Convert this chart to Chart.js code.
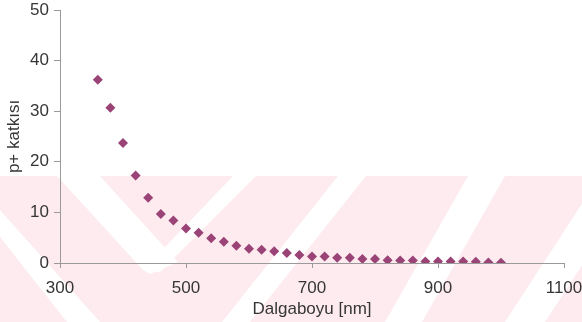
<!DOCTYPE html>
<html>
<head>
<meta charset="utf-8">
<script src="https://cdn.jsdelivr.net/npm/chart.js@4/dist/chart.umd.min.js"></script>
<style>
  html, body { margin: 0; padding: 0; background: #ffffff; }
  #wrap { position: relative; width: 582px; height: 322px; }
</style>
</head>
<body>
<div id="wrap"><canvas id="c" width="582" height="322"></canvas></div>
<script>
// Data
const wavelengths = [360, 380, 400, 420, 440, 460, 480, 500, 520, 540, 560, 580, 600, 620, 640, 660, 680,
  700, 720, 740, 760, 780, 800, 820, 840, 860, 880, 900, 920, 940, 960, 980, 1000];
const pContribution = [36.2, 30.7, 23.7, 17.3, 12.9, 9.7, 8.4, 6.8, 6.0, 4.9, 4.2, 3.4, 2.8, 2.6, 2.3, 2.0, 1.6,
  1.3, 1.3, 1.05, 1.05, 0.8, 0.8, 0.55, 0.5, 0.5, 0.3, 0.3, 0.3, 0.3, 0.25, 0.1, 0.05];
const xTicks = [300, 500, 700, 900, 1100];
const yTicks = [0, 10, 20, 30, 40, 50];
const xTitle = 'Dalgaboyu [nm]';
const yTitle = 'p+ katkısı';

// Background watermark (decorative pink stripes, not data)
const watermark = {
  id: 'watermark',
  beforeDraw(chart) {
    const ctx = chart.ctx;
    const W = chart.width, H = chart.height;
    ctx.save();
    ctx.fillStyle = '#ffffff';
    ctx.fillRect(0, 0, W, H);
    ctx.beginPath();
    ctx.rect(0, 176, W, H - 176);
    ctx.clip();
    ctx.fillStyle = '#fdebef';
    ctx.fillRect(0, 176, W, H - 176);
    ctx.fillStyle = '#ffffff';
    const poly = (pts) => { ctx.beginPath(); ctx.moveTo(pts[0][0], pts[0][1]); for (let i = 1; i < pts.length; i++) ctx.lineTo(pts[i][0], pts[i][1]); ctx.closePath(); ctx.fill(); };
    // "\" bands
    poly([[57, 176], [100, 176], [178, 262], [150, 274], [143, 270]]);
    poly([[-40, 176], [0, 176], [0, 210], [100, 322], [67, 322], [0, 237]]);
    // "/" bands
    poly([[233, 176], [256, 176], [160, 272], [143, 270]]);
    poly([[338, 176], [366, 176], [250, 322], [222, 322]]);
    poly([[468, 176], [505, 176], [422, 322], [385, 322]]);
    poly([[600, 176], [640, 176], [545, 322], [505, 322]]);
    ctx.restore();
  }
};

const tickColor = '#363636';
const axisColor = '#9a9a9a';
const fontFamily = 'Liberation Sans, Arial, sans-serif';

new Chart(document.getElementById('c'), {
  type: 'scatter',
  data: {
    datasets: [{
      data: wavelengths.map((w, i) => ({ x: w, y: pContribution[i] })),
      pointStyle: 'rectRot',
      pointRadius: 5,
      pointHoverRadius: 5,
      backgroundColor: '#9a4376',
      borderColor: '#9a4376',
      borderWidth: 0
    }]
  },
  options: {
    responsive: false,
    animation: false,
    devicePixelRatio: 1,
    layout: { padding: { top: 10, right: 0, left: 0, bottom: 0 } },
    plugins: { legend: { display: false }, tooltip: { enabled: false } },
    scales: {
      x: {
        type: 'linear',
        min: 300, max: 1100,
        afterBuildTicks: (s) => { s.ticks = xTicks.map(v => ({ value: v })); },
        afterFit: (s) => { s.height = 59; s.paddingLeft = 0; s.paddingRight = 18; },
        grid: { drawOnChartArea: false, drawTicks: true, tickLength: 5, color: axisColor },
        border: { color: axisColor, width: 1 },
        ticks: { color: tickColor, font: { family: fontFamily, size: 17 }, padding: 10, maxRotation: 0,
                 callback: (v) => String(v) },
        title: { display: true, text: xTitle, color: tickColor, font: { family: fontFamily, size: 17 }, padding: { top: 0, bottom: 2 } }
      },
      y: {
        type: 'linear',
        min: 0, max: 50,
        afterBuildTicks: (s) => { s.ticks = yTicks.map(v => ({ value: v })); },
        afterFit: (s) => { s.width = 60; s.paddingTop = 0; s.paddingBottom = 0; },
        grid: { drawOnChartArea: false, drawTicks: true, tickLength: 6, color: axisColor },
        border: { color: axisColor, width: 1 },
        ticks: { color: tickColor, font: { family: fontFamily, size: 17 }, padding: 5, callback: (v) => String(v) },
        title: { display: true, text: yTitle, color: tickColor, font: { family: fontFamily, size: 17 }, padding: { top: 4, bottom: 0 } }
      }
    }
  },
  plugins: [watermark]
});
</script>
</body>
</html>
